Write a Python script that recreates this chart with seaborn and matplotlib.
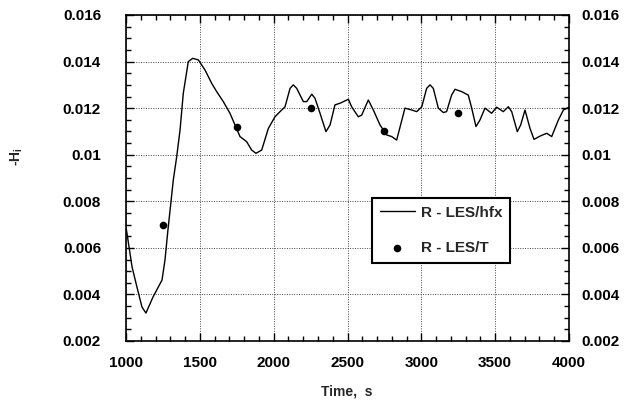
import matplotlib
matplotlib.use("Agg")
import matplotlib.pyplot as plt
import seaborn as sns
import pandas as pd
from matplotlib.ticker import MultipleLocator, FixedLocator

# ---- data ----
time_hfx = [1000, 1041, 1074, 1108, 1135, 1183, 1244, 1264, 1284, 1305, 1320, 1343, 1366,
            1388, 1422, 1452, 1490, 1535, 1580, 1614, 1659, 1704, 1738, 1772, 1817, 1851,
            1880, 1919, 1964, 2009, 2043, 2077, 2111, 2133, 2156, 2201, 2224, 2258, 2280,
            2314, 2354, 2382, 2415, 2449, 2506, 2528, 2573, 2596, 2641, 2675, 2720, 2765,
            2799, 2833, 2889, 2935, 2969, 3003, 3036, 3059, 3081, 3115, 3149, 3171, 3205,
            3228, 3273, 3318, 3341, 3370, 3397, 3431, 3476, 3510, 3555, 3589, 3612, 3650,
            3673, 3702, 3736, 3763, 3804, 3849, 3883, 3928, 3962, 4000]
h_hfx = [0.0069, 0.00518, 0.00432, 0.00346, 0.0032, 0.00389, 0.00462, 0.00548, 0.00677,
         0.0080, 0.0089, 0.0099, 0.01106, 0.01264, 0.0140, 0.01414, 0.01407, 0.01364,
         0.01307, 0.01271, 0.01228, 0.01178, 0.01128, 0.01078, 0.01056, 0.0102, 0.01006,
         0.0102, 0.01113, 0.01163, 0.01185, 0.01206, 0.01285, 0.0130, 0.01285, 0.01228,
         0.01228, 0.0126, 0.01242, 0.01178, 0.01099, 0.01128, 0.01214, 0.01221, 0.01238,
         0.01206, 0.01163, 0.0117, 0.01235, 0.01192, 0.01128, 0.01085, 0.01078, 0.01063,
         0.0120, 0.01192, 0.01185, 0.01206, 0.01285, 0.0130, 0.01285, 0.0120, 0.01181,
         0.01185, 0.01256, 0.01281, 0.01271, 0.01256, 0.0120, 0.01121, 0.01149, 0.0120,
         0.01178, 0.01204, 0.01185, 0.01206, 0.01185, 0.01099, 0.01128, 0.01192, 0.01113,
         0.01066, 0.0108, 0.01092, 0.01078, 0.01149, 0.01192, 0.01204]

time_T = [1250, 1750, 2250, 2750, 3250]
h_T = [0.0070, 0.0112, 0.0120, 0.0110, 0.0118]

x_ticks = [1000, 1500, 2000, 2500, 3000, 3500, 4000]
y_ticks = [0.002, 0.004, 0.006, 0.008, 0.01, 0.012, 0.014, 0.016]
y_tick_labels = ["0.002", "0.004", "0.006", "0.008", "0.01", "0.012", "0.014", "0.016"]

label_line = "R - LES/hfx"
label_pts = "R - LES/T"

df_line = pd.DataFrame({"t": time_hfx, "h": h_hfx})
df_pts = pd.DataFrame({"t": time_T, "h": h_T})

sns.set_style("ticks")
plt.rcParams["font.family"] = ["Liberation Sans", "DejaVu Sans"]
plt.rcParams["font.weight"] = "bold"
plt.rcParams["mathtext.fontset"] = "custom"
plt.rcParams["mathtext.rm"] = "Liberation Sans:bold"
plt.rcParams["mathtext.it"] = "Liberation Sans:bold"
plt.rcParams["mathtext.bf"] = "Liberation Sans:bold"

fig = plt.figure(figsize=(6.34, 4.0), dpi=100)
ax = fig.add_axes([126 / 634, 1 - 341 / 400, (569 - 126) / 634, (341 - 15) / 400])

sns.lineplot(data=df_line, x="t", y="h", ax=ax, color="black", linewidth=1.0,
             label=label_line, estimator=None, sort=False)
sns.scatterplot(data=df_pts, x="t", y="h", ax=ax, color="black", s=30,
                edgecolor="black", linewidth=0, label=label_pts, zorder=5)

ax.set_xlim(1000, 4000)
ax.set_ylim(0.002, 0.016)
ax.xaxis.set_major_locator(FixedLocator(x_ticks))
ax.xaxis.set_minor_locator(MultipleLocator(100))
ax.yaxis.set_major_locator(FixedLocator(y_ticks))
ax.yaxis.set_minor_locator(MultipleLocator(0.0005))
ax.set_yticklabels(y_tick_labels)

ax.grid(True, which="major", linestyle=(0, (1, 1.5)), color="#444444", linewidth=0.7)
for s in ax.spines.values():
    s.set_linewidth(1.2)
    s.set_color("black")

ax.tick_params(which="both", direction="in", top=True, right=True,
               labelright=True, colors="black", width=1.0)
ax.tick_params(which="major", length=6)
ax.tick_params(which="minor", length=3.5)
ax.tick_params(axis="x", which="major", labelsize=11, pad=11)
for lab in ax.get_xticklabels():
    lab.set_fontweight("bold")

# left labels further from the axis than the right ones
from matplotlib.transforms import ScaledTranslation
for t in ax.yaxis.get_major_ticks():
    t.label1.set_fontweight("bold")
    t.label1.set_fontsize(11)
    t.label2.set_fontweight("bold")
    t.label2.set_fontsize(11)
    t.set_pad(9)
off = ScaledTranslation(-9 / 72, 0, fig.dpi_scale_trans)
for t in ax.yaxis.get_major_ticks():
    t.label1.set_transform(t.label1.get_transform() + off)

ax.set_xlabel("")
ax.set_ylabel("")
fig.text(347 / 634, 1 - 392 / 400, "Time,  s", ha="center", va="center",
         fontsize=10, fontweight="bold")
fig.text(17 / 634, 1 - 157 / 400, r"-H$_\mathrm{i}$", ha="center", va="center",
         rotation=90, fontsize=10, fontweight="bold")

leg = ax.legend(loc="upper left", bbox_to_anchor=(372 / 634, 1 - 198 / 400),
                bbox_transform=fig.transFigure, borderaxespad=0, frameon=True,
                fancybox=False, edgecolor="black", framealpha=1,
                prop={"size": 11, "weight": "bold"}, handlelength=2.3,
                handletextpad=0.4, labelspacing=1.4, borderpad=0.5, markerscale=1.0)
leg.get_frame().set_linewidth(1.5)

fig.savefig("out.png", dpi=100)
